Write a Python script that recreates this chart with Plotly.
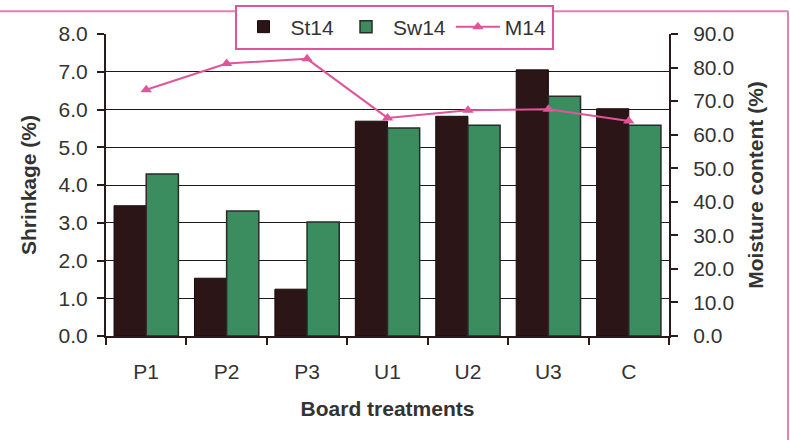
import plotly.graph_objects as go

categories = ["P1", "P2", "P3", "U1", "U2", "U3", "C"]
st14 = [3.45, 1.53, 1.24, 5.69, 5.82, 7.05, 6.02]
sw14 = [4.29, 3.31, 3.02, 5.51, 5.58, 6.35, 5.58]
m14 = [73.4, 81.2, 82.6, 65.0, 67.3, 67.6, 64.1]

left_ticks = [0, 1, 2, 3, 4, 5, 6, 7, 8]
right_ticks = [0, 10, 20, 30, 40, 50, 60, 70, 80, 90]

FONT = "Liberation Sans, Arial, sans-serif"
TXT = "#333333"
AX = "#2a1a1a"
PINK = "#e0559a"
BORDER = "#e67fae"
FS = 21

fig = go.Figure()
fig.add_trace(go.Bar(name="St14", x=categories, y=st14,
                     marker=dict(color="#2b1517", line=dict(color="#1a0a0a", width=1))))
fig.add_trace(go.Bar(name="Sw14", x=categories, y=sw14,
                     marker=dict(color="#3b8c5f", line=dict(color="#2a2a2a", width=1.5))))
fig.add_trace(go.Scatter(name="M14", x=categories, y=m14, yaxis="y2", mode="lines+markers",
                         line=dict(color=PINK, width=2),
                         marker=dict(symbol="triangle-up", size=10, color=PINK)))

n = len(categories)
boundaries = [i - 0.5 for i in range(n + 1)]

tick_common = dict(ticklen=7, tickwidth=2, tickcolor=AX)

fig.update_layout(
    width=790, height=440,
    margin=dict(l=106, r=121, t=34, b=104, autoexpand=False),
    paper_bgcolor="white", plot_bgcolor="white",
    font=dict(family=FONT, size=FS, color=TXT),
    barmode="group", bargap=0.2, bargroupgap=0,
    showlegend=True,
    legend=dict(orientation="h", xref="container", yref="container",
                x=394 / 790, xanchor="center", y=1 - 27 / 440, yanchor="middle",
                bordercolor=PINK, borderwidth=2, bgcolor="white",
                font=dict(size=FS, color=TXT), traceorder="normal",
                itemwidth=44),
    xaxis=dict(type="category", range=[-0.5, n - 0.5], showline=True, linecolor=AX, linewidth=2,
               ticks="outside", tickson="boundaries", **tick_common,
               ticklabelstandoff=16, showgrid=False,
               title=dict(text="<b>Board treatments</b>", font=dict(size=FS, color=TXT), standoff=19)),
    xaxis2=dict(range=[-0.5, n - 0.5], overlaying="x", anchor="y", side="bottom",
                tickvals=boundaries, showticklabels=False, ticks="inside", **tick_common,
                showgrid=False, zeroline=False, showline=False),
    yaxis=dict(range=[0, 8], tickvals=left_ticks, tickformat=".1f", showline=True,
               linecolor=AX, linewidth=2, ticks="outside", **tick_common,
               ticklabelstandoff=5,
               showgrid=True, gridcolor="#1a1a1a", gridwidth=1, zeroline=False,
               title=dict(text="<b>Shrinkage (%)</b>", font=dict(size=FS, color=TXT), standoff=16)),
    yaxis3=dict(range=[0, 8], tickvals=left_ticks, overlaying="y", side="left", anchor="x",
                showticklabels=False, ticks="inside", **tick_common,
                showgrid=False, zeroline=False, showline=False),
    yaxis2=dict(range=[0, 90], tickvals=right_ticks, tickformat=".1f", overlaying="y", side="right",
                showline=True, linecolor=AX, linewidth=2, ticks="outside", **tick_common,
                showgrid=False, zeroline=False, ticklabelstandoff=11,
                title=dict(text="<b>Moisture content (%)</b>", font=dict(size=FS, color=TXT), standoff=15)),
    yaxis4=dict(range=[0, 90], tickvals=right_ticks, overlaying="y", side="right", anchor="x",
                showticklabels=False, ticks="inside", **tick_common,
                showgrid=False, zeroline=False, showline=False),
    shapes=[
        dict(type="line", xref="paper", yref="paper", x0=-0.2, x1=1.2114, y0=1.075, y1=1.075,
             line=dict(color=BORDER, width=2), layer="above"),
        dict(type="line", xref="paper", yref="paper", x0=1.2114, x1=1.2114, y0=-0.4, y1=1.075,
             line=dict(color=BORDER, width=2), layer="above"),
    ],
)

fig.write_html("out.html")
